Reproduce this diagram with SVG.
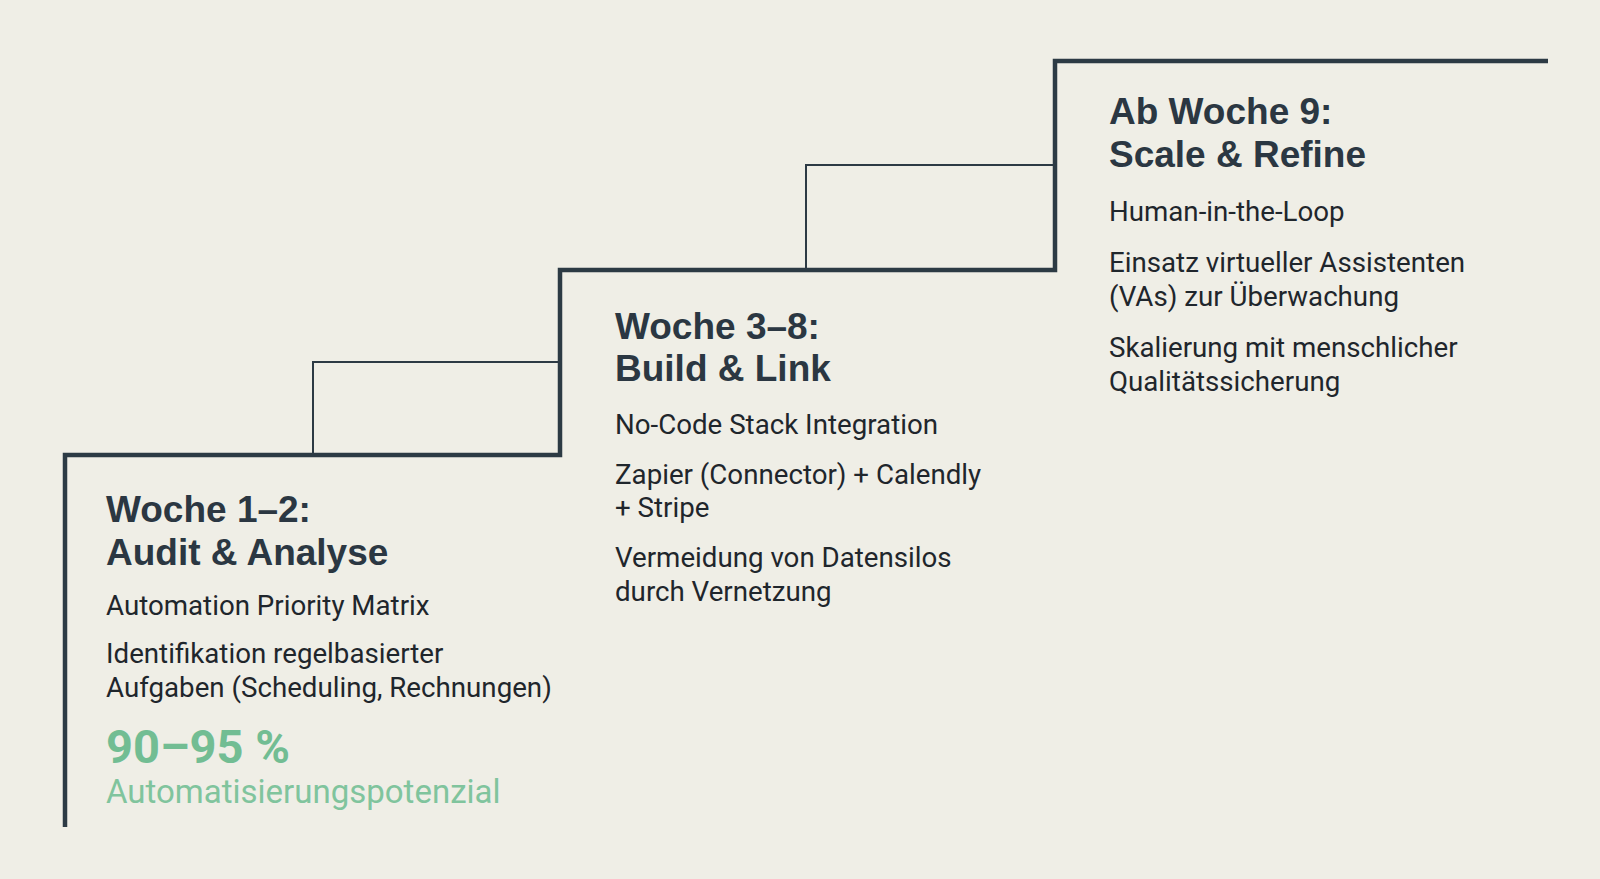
<svg xmlns="http://www.w3.org/2000/svg" width="1600" height="879" viewBox="0 0 1600 879">
<style>
.h{font-family:"Liberation Sans",Arial,sans-serif;font-weight:700;font-size:37px;fill:#2b3742}
.b{font-family:Roboto,"Liberation Sans",sans-serif;font-size:27.7px;fill:#1f262c}
.g1{font-family:Roboto,"Liberation Sans",sans-serif;font-weight:700;font-size:47px;fill:#72bd93}
.g2{font-family:Roboto,"Liberation Sans",sans-serif;font-size:33px;fill:#80c49d}
.thick{fill:none;stroke:#2c3a44;stroke-width:4.5}
.thin{fill:none;stroke:#2c3a44;stroke-width:2}
</style>
<rect width="1600" height="879" fill="#efeee6"/>
<g id="connectors">
<path class="thick" d="M65 827 V455 H560 V270 H1055 V61 H1548"/>
<path class="thin" d="M313 455 V362 H560"/>
<path class="thin" d="M806 270 V165 H1055"/>
</g>
<g id="step1">
<text class="h" x="106" y="522">Woche 1–2:</text>
<text class="h" x="106" y="565">Audit &amp; Analyse</text>
<text class="b" x="106" y="615">Automation Priority Matrix</text>
<text class="b" x="106" y="663">Identifikation regelbasierter</text>
<text class="b" x="106" y="697">Aufgaben (Scheduling, Rechnungen)</text>
<text class="g1" x="106" y="763">90–95 %</text>
<text class="g2" x="106" y="803">Automatisierungspotenzial</text>
</g>
<g id="step2">
<text class="h" x="615" y="339">Woche 3–8:</text>
<text class="h" x="615" y="381">Build &amp; Link</text>
<text class="b" x="615" y="434">No-Code Stack Integration</text>
<text class="b" x="615" y="484">Zapier (Connector) + Calendly</text>
<text class="b" x="615" y="517">+ Stripe</text>
<text class="b" x="615" y="567">Vermeidung von Datensilos</text>
<text class="b" x="615" y="601">durch Vernetzung</text>
</g>
<g id="step3">
<text class="h" x="1109" y="124">Ab Woche 9:</text>
<text class="h" x="1109" y="167">Scale &amp; Refine</text>
<text class="b" x="1109" y="221">Human-in-the-Loop</text>
<text class="b" x="1109" y="272">Einsatz virtueller Assistenten</text>
<text class="b" x="1109" y="306">(VAs) zur Überwachung</text>
<text class="b" x="1109" y="357">Skalierung mit menschlicher</text>
<text class="b" x="1109" y="391">Qualitätssicherung</text>
</g>
</svg>
